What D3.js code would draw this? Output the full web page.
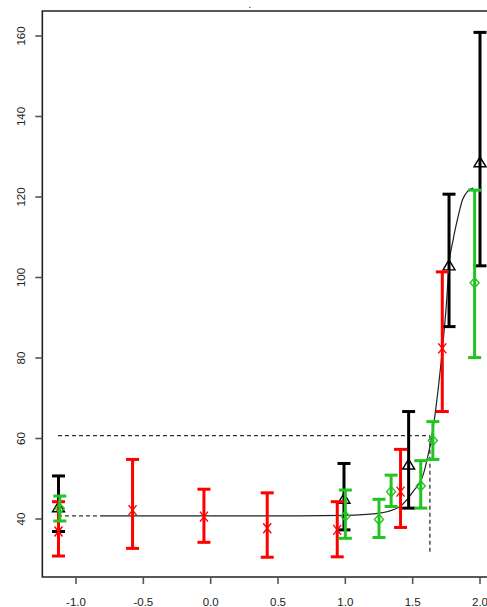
<!DOCTYPE html>
<html>
<head>
<meta charset="utf-8">
<script src="https://cdn.jsdelivr.net/npm/d3@7/dist/d3.min.js"></script>
<style>
  body { margin: 0; background: #fff; }
  text { font-family: "Liberation Sans", Arial, Helvetica, sans-serif; fill: #222; }
</style>
</head>
<body>
<div id="chart"></div>
<script>
var W = 487, H = 607;

// tick labels
var xTicks = [-1.0, -0.5, 0.0, 0.5, 1.0, 1.5, 2.0];
var yTicks = [40, 60, 80, 100, 120, 140, 160];

// red series (x marker)
var redX  = [-1.13, -0.58, -0.05, 0.42, 0.94, 1.41, 1.72];
var redY  = [36.9, 42.2, 40.6, 37.7, 37.3, 46.8, 82.4];
var redLo = [30.8, 32.7, 34.2, 30.5, 30.6, 37.9, 66.7];
var redHi = [44.3, 54.8, 47.4, 46.5, 44.3, 57.3, 101.4];

// green series (diamond)
var greenX  = [-1.12, 1.00, 1.25, 1.34, 1.56, 1.65, 1.96];
var greenY  = [42.6, 40.7, 39.9, 46.8, 48.2, 59.5, 98.7];
var greenLo = [39.5, 35.2, 35.4, 43.1, 42.7, 54.8, 80.1];
var greenHi = [45.7, 47.2, 44.9, 50.9, 54.5, 64.2, 121.7];

// black series (triangle)
var blackX  = [-1.13, 0.99, 1.47, 1.77, 2.00];
var blackY  = [42.8, 44.9, 53.4, 102.9, 128.5];
var blackLo = [36.9, 37.3, 42.7, 87.8, 102.9];
var blackHi = [50.7, 53.8, 66.7, 120.7, 160.9];

// fitted curve
var curveX = [-0.82, 0.66, 1.00, 1.24, 1.40, 1.50, 1.58, 1.61, 1.64, 1.68, 1.72, 1.75, 1.77, 1.80, 1.84, 1.87, 1.91, 1.95];
var curveY = [40.8, 40.8, 40.9, 41.4, 43.0, 46.7, 51.2, 55.2, 60.1, 69.6, 82.0, 93.2, 103.1, 109.3, 115.5, 119.3, 121.5, 122.2];

// reference lines
var baseLevel = 40.8;
var threshLevel = 60.7;
var threshX = 1.628;
var refStartX = -1.134;
var refBottom = 31.6;

var x = d3.scaleLinear().domain([-1, 2]).range([76, 480]);
var y = d3.scaleLinear().domain([40, 160]).range([519, 36]);
var xLim = [-1.25, 2.2];
var yLim = [25.6, 166.2];

var svg = d3.select("#chart").append("svg")
            .attr("width", W)
            .attr("height", H);

function drawFrame(){
	var g = svg.append("g").attr("stroke", "#222").attr("stroke-width", 1.6).attr("fill", "none");
	g.append("path")
	 .attr("d", "M" + x(xLim[1]) + "," + y(yLim[1]) + "H" + x(xLim[0]) + "V" + y(yLim[0]) + "H" + x(xLim[1]));

	// y axis ticks + labels
	g.selectAll(".yt").data(yTicks).enter().append("line")
	 .attr("x1", x(xLim[0]) - 7).attr("x2", x(xLim[0]))
	 .attr("y1", function(d){ return y(d); }).attr("y2", function(d){ return y(d); })
	 .attr("stroke", "#555");
	svg.selectAll(".ylab").data(yTicks).enter().append("text")
	 .attr("transform", function(d){ return "translate(25," + y(d) + ") rotate(-90)"; })
	 .attr("text-anchor", "middle")
	 .style("font-size", "11.5px")
	 .text(function(d){ return d; });

	// x axis ticks + labels
	g.selectAll(".xt").data(xTicks).enter().append("line")
	 .attr("x1", function(d){ return x(d); }).attr("x2", function(d){ return x(d); })
	 .attr("y1", y(yLim[0])).attr("y2", y(yLim[0]) + 7)
	 .attr("stroke", "#555");
	svg.selectAll(".xlab").data(xTicks).enter().append("text")
	 .attr("x", function(d){ return x(d); })
	 .attr("y", 606)
	 .attr("text-anchor", "middle")
	 .style("font-size", "11.5px")
	 .text(function(d){ return d.toFixed(1); });

	// stray title dot
	svg.append("text").attr("x", 250).attr("y", 8).attr("text-anchor", "middle")
	 .style("font-size", "10px").text(".");
}

function drawRefLines(){
	var g = svg.append("g").attr("stroke", "#333").attr("stroke-width", 1.3)
	           .attr("stroke-dasharray", "4,3").attr("fill", "none");
	g.append("line").attr("x1", x(refStartX)).attr("x2", x(curveX[0]))
	 .attr("y1", y(baseLevel)).attr("y2", y(baseLevel));
	g.append("line").attr("x1", x(refStartX)).attr("x2", x(threshX))
	 .attr("y1", y(threshLevel)).attr("y2", y(threshLevel));
	g.append("line").attr("x1", x(threshX)).attr("x2", x(threshX))
	 .attr("y1", y(threshLevel)).attr("y2", y(refBottom));
}

function drawCurve(){
	var pts = curveX.map(function(d, i){ return [d, curveY[i]]; });
	var line = d3.line()
	             .x(function(d){ return x(d[0]); })
	             .y(function(d){ return y(d[1]); })
	             .curve(d3.curveMonotoneX);
	svg.append("path").datum(pts)
	   .attr("d", line)
	   .attr("fill", "none")
	   .attr("stroke", "#222")
	   .attr("stroke-width", 1.2);
}

function drawSeries(xs, ys, lo, hi, color, shape){
	var data = xs.map(function(d, i){ return {x: d, y: ys[i], lo: lo[i], hi: hi[i]}; });
	var g = svg.append("g").attr("stroke", color).attr("fill", "none");
	var bars = g.selectAll("g").data(data).enter().append("g");
	bars.append("line")
	    .attr("x1", function(d){ return x(d.x); }).attr("x2", function(d){ return x(d.x); })
	    .attr("y1", function(d){ return y(d.lo); }).attr("y2", function(d){ return y(d.hi); })
	    .attr("stroke-width", 3);
	bars.append("line")   // top cap
	    .attr("x1", function(d){ return x(d.x) - 6.5; }).attr("x2", function(d){ return x(d.x) + 6.5; })
	    .attr("y1", function(d){ return y(d.hi); }).attr("y2", function(d){ return y(d.hi); })
	    .attr("stroke-width", 3);
	bars.append("line")   // bottom cap
	    .attr("x1", function(d){ return x(d.x) - 6.5; }).attr("x2", function(d){ return x(d.x) + 6.5; })
	    .attr("y1", function(d){ return y(d.lo); }).attr("y2", function(d){ return y(d.lo); })
	    .attr("stroke-width", 3);

	var sym;
	if(shape == "x")
		sym = "M-4,-5L4,5M-4,5L4,-5";
	else if(shape == "diamond")
		sym = "M0,-5L4.5,0L0,5L-4.5,0Z";
	else
		sym = "M0,-6L6,4L-6,4Z";
	bars.append("path")
	    .attr("transform", function(d){ return "translate(" + x(d.x) + "," + y(d.y) + ")"; })
	    .attr("d", sym)
	    .attr("fill", "none")
	    .attr("stroke-width", 1.4);
}

drawFrame();
drawRefLines();
drawCurve();
drawSeries(blackX, blackY, blackLo, blackHi, "#000", "triangle");
drawSeries(redX, redY, redLo, redHi, "#ff0000", "x");
drawSeries(greenX, greenY, greenLo, greenHi, "#22c422", "diamond");
</script>
</body>
</html>
